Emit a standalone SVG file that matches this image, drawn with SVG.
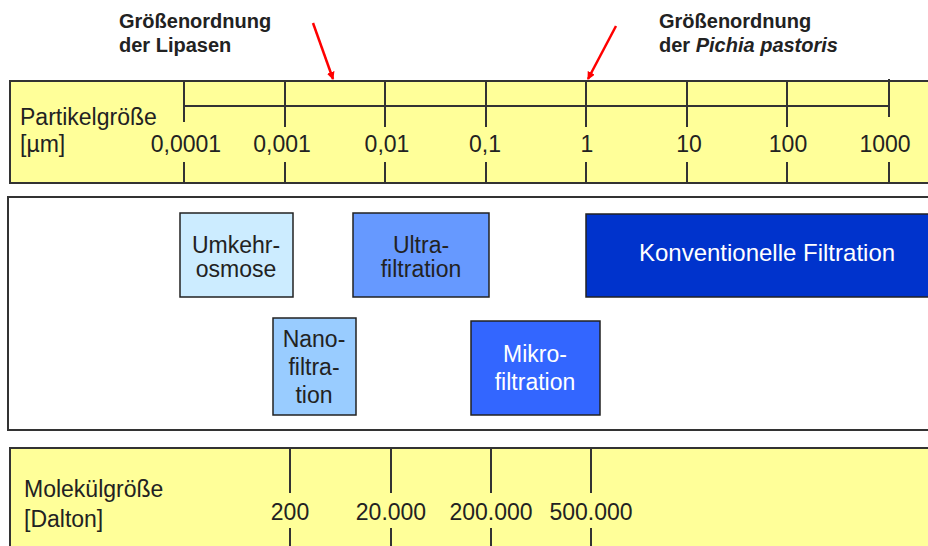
<svg xmlns="http://www.w3.org/2000/svg" width="928" height="546" viewBox="0 0 928 546">
<style>
text{font-family:"Liberation Sans",Arial,sans-serif;fill:#222}
.band{fill:#FFFF99;stroke:#333;stroke-width:2}
.tk{stroke:#333;stroke-width:2;fill:none}
.lbl{font-size:23px}
.num{font-size:23px;text-anchor:middle}
.hd{font-size:20px;font-weight:bold}
.box{stroke:#222;stroke-width:1.5}
.bt{font-size:23px;text-anchor:middle}
.w{fill:#fff}
.arr{stroke:#FF0000;stroke-width:2.5;fill:none}
</style>
<defs>
<marker id="ah" markerWidth="8" markerHeight="8" refX="7" refY="4" orient="auto" markerUnits="userSpaceOnUse" viewBox="0 0 8 8">
<path d="M0,0 L8,4 L0,8 z" fill="#FF0000"/>
</marker>
</defs>

<g id="annotation-lipasen">
<text class="hd" x="119" y="28">Größenordnung</text>
<text class="hd" x="119" y="52">der Lipasen</text>
</g>
<g id="annotation-pichia">
<text class="hd" x="659" y="28">Größenordnung</text>
<text class="hd" x="659" y="52">der <tspan font-style="italic">Pichia pastoris</tspan></text>
</g>

<g id="particle-scale">
<rect class="band" x="10" y="81" width="930" height="102"/>
<text class="lbl" x="20" y="125">Partikelgröße</text>
<text class="lbl" x="20" y="152">[µm]</text>
<path class="tk" d="M184,106 H889 M184,81 V122 M285,81 V127 M385,81 V127 M486,81 V127 M586,81 V127 M687,81 V127 M787,81 V127 M889,79 V117 M184,162 V183 M285,162 V183 M385,162 V183 M486,162 V183 M586,162 V183 M687,162 V183 M787,162 V183 M889,162 V183"/>
<text class="num" x="186" y="152">0,0001</text>
<text class="num" x="282" y="152">0,001</text>
<text class="num" x="387" y="152">0,01</text>
<text class="num" x="485" y="152">0,1</text>
<text class="num" x="587" y="152">1</text>
<text class="num" x="689" y="152">10</text>
<text class="num" x="788" y="152">100</text>
<text class="num" x="885" y="152">1000</text>
</g>

<g id="connectors">
<line class="arr" x1="313" y1="23" x2="333" y2="79" marker-end="url(#ah)"/>
<line class="arr" x1="616" y1="26" x2="588" y2="79" marker-end="url(#ah)"/>
</g>

<g id="process-panel">
<rect x="8" y="197" width="930" height="233" fill="#fff" stroke="#333" stroke-width="2"/>
</g>

<g id="umkehrosmose">
<rect class="box" x="180" y="213" width="113" height="84" fill="#CCECFF"/>
<text class="bt" x="236" y="253">Umkehr-</text>
<text class="bt" x="236" y="277">osmose</text>
</g>
<g id="ultrafiltration">
<rect class="box" x="353" y="213" width="136" height="84" fill="#6699FF"/>
<text class="bt" x="421" y="253">Ultra-</text>
<text class="bt" x="421" y="277">filtration</text>
</g>
<g id="nanofiltration">
<rect class="box" x="273" y="318" width="83" height="97" fill="#99CCFF"/>
<text class="bt" x="314" y="347">Nano-</text>
<text class="bt" x="314" y="375">filtra-</text>
<text class="bt" x="314" y="403">tion</text>
</g>
<g id="mikrofiltration">
<rect class="box" x="471" y="321" width="129" height="94" fill="#3366FF"/>
<text class="bt w" x="535" y="362">Mikro-</text>
<text class="bt w" x="535" y="390">filtration</text>
</g>
<g id="konventionelle-filtration">
<rect class="box" x="586" y="214" width="360" height="83" fill="#0033CC"/>
<text class="bt w" x="767" y="261" style="font-size:24px">Konventionelle Filtration</text>
</g>

<g id="molecule-scale">
<rect class="band" x="10" y="448" width="930" height="110"/>
<text class="lbl" x="24" y="497">Molekülgröße</text>
<text class="lbl" x="24" y="527">[Dalton]</text>
<path class="tk" d="M290,448 V493 M391,448 V493 M491,448 V493 M591,448 V493 M290,528 V546 M391,528 V546 M491,528 V546 M591,528 V546"/>
<text class="num" x="290" y="520">200</text>
<text class="num" x="391" y="520">20.000</text>
<text class="num" x="491" y="520">200.000</text>
<text class="num" x="591" y="520">500.000</text>
</g>
</svg>
